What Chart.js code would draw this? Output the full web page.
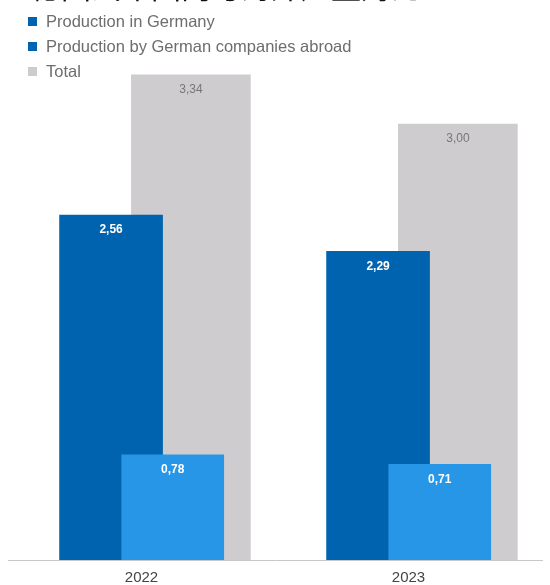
<!DOCTYPE html>
<html lang="en">
<head>
    <meta charset="UTF-8">
    <title>Vehicle Production</title>
    <script src="https://cdn.jsdelivr.net/npm/chart.js"></script>
    <style>
        body {
            margin: 0;
            background: #fff;
            font-family: "Liberation Sans", Arial, sans-serif;
        }
        .wrap {
            position: relative;
            width: 550px;
            height: 585px;
            overflow: hidden;
        }
        .title {
            position: absolute;
            left: 31px;
            top: -30px;
            font-family: "Noto Sans CJK SC", sans-serif;
            font-size: 30px;
            line-height: 30px;
            color: #111;
            white-space: nowrap;
        }
        .legend {
            position: absolute;
            left: 28px;
            top: 9px;
            font-size: 16.5px;
            line-height: 25px;
            color: #6d6d6d;
            z-index: 2;
        }
        .legend div {
            display: flex;
            align-items: center;
        }
        .legend span.box {
            display: inline-block;
            width: 9px;
            height: 9px;
            margin-right: 9px;
        }
    </style>
</head>
<body>
    <div class="wrap">
        <div class="title">德国汽车国内与海外产量对比</div>
        <div class="legend" id="legend"></div>
        <canvas id="chart" width="550" height="585"></canvas>
    </div>

    <script>
        // million vehicles
        const years = ['2022', '2023'];
        const seriesNames = ['Production in Germany', 'Production by German companies abroad', 'Total'];
        const inGermany = [2.56, 2.29];
        const abroad = [0.78, 0.71];
        const total = [3.34, 3.00];

        const barColors = ['#0063af', '#2896e6', '#cfcccf'];
        const legendColors = ['#0063af', '#0063af', '#cccccc'];
        const labelColors = ['#ffffff', '#ffffff', '#777777'];
        // bar placement inside each year slot (x units) and width (px)
        const offsets = [-0.114, 0.117, 0.185];
        const widths = [103, 102, 119];

        // html legend, one entry per line
        const legendEl = document.getElementById('legend');
        seriesNames.forEach((name, i) => {
            const row = document.createElement('div');
            row.innerHTML = `<span class="box" style="background:${legendColors[i]}"></span>${name}`;
            legendEl.appendChild(row);
        });

        function toPoints(values, offset) {
            return values.map((v, i) => ({ x: i + offset, y: v }));
        }

        const valueLabels = {
            id: 'valueLabels',
            afterDatasetsDraw(chart) {
                const ctx = chart.ctx;
                ctx.save();
                ctx.textAlign = 'center';
                ctx.textBaseline = 'middle';
                chart.data.datasets.forEach((ds, di) => {
                    const meta = chart.getDatasetMeta(di);
                    meta.data.forEach((bar, i) => {
                        const v = ds.data[i].y;
                        ctx.font = (di < 2 ? 'bold ' : '') + '12px "Liberation Sans", Arial, sans-serif';
                        ctx.fillStyle = labelColors[di];
                        ctx.fillText(v.toFixed(2).replace('.', ','), bar.x, bar.y + 15);
                    });
                });
                ctx.restore();
            }
        };

        new Chart(document.getElementById('chart'), {
            type: 'bar',
            data: {
                datasets: [
                    {
                        label: seriesNames[0],
                        data: toPoints(inGermany, offsets[0]),
                        backgroundColor: barColors[0],
                        barThickness: widths[0],
                        order: 1,
                        yAxisID: 'y'
                    },
                    {
                        label: seriesNames[1],
                        data: toPoints(abroad, offsets[1]),
                        backgroundColor: barColors[1],
                        barThickness: widths[1],
                        order: 0,
                        yAxisID: 'y'
                    },
                    {
                        label: seriesNames[2],
                        data: toPoints(total, offsets[2]),
                        backgroundColor: barColors[2],
                        barThickness: widths[2],
                        order: 2,
                        yAxisID: 'yTotal'
                    }
                ]
            },
            options: {
                responsive: false,
                animation: false,
                grouped: false,
                layout: {
                    padding: { left: 8, right: 8, top: 21, bottom: -11 }
                },
                plugins: {
                    legend: { display: false },
                    tooltip: { enabled: false }
                },
                scales: {
                    x: {
                        type: 'linear',
                        offset: false,
                        min: -0.5,
                        max: 1.5,
                        afterBuildTicks(scale) {
                            scale.ticks = years.map((_, i) => ({ value: i }));
                        },
                        ticks: {
                            callback: (value) => years[value],
                            color: '#444',
                            padding: 9,
                            font: { size: 15, family: '"Liberation Sans", Arial, sans-serif' }
                        },
                        grid: { display: false, drawTicks: false, tickLength: 0 },
                        border: { display: true, color: '#c8c8c8', width: 1 }
                    },
                    y: {
                        display: false,
                        min: 0,
                        max: 4
                    },
                    yTotal: {
                        display: false,
                        min: 0,
                        max: 3.71
                    }
                }
            },
            plugins: [valueLabels]
        });
    </script>
</body>
</html>
